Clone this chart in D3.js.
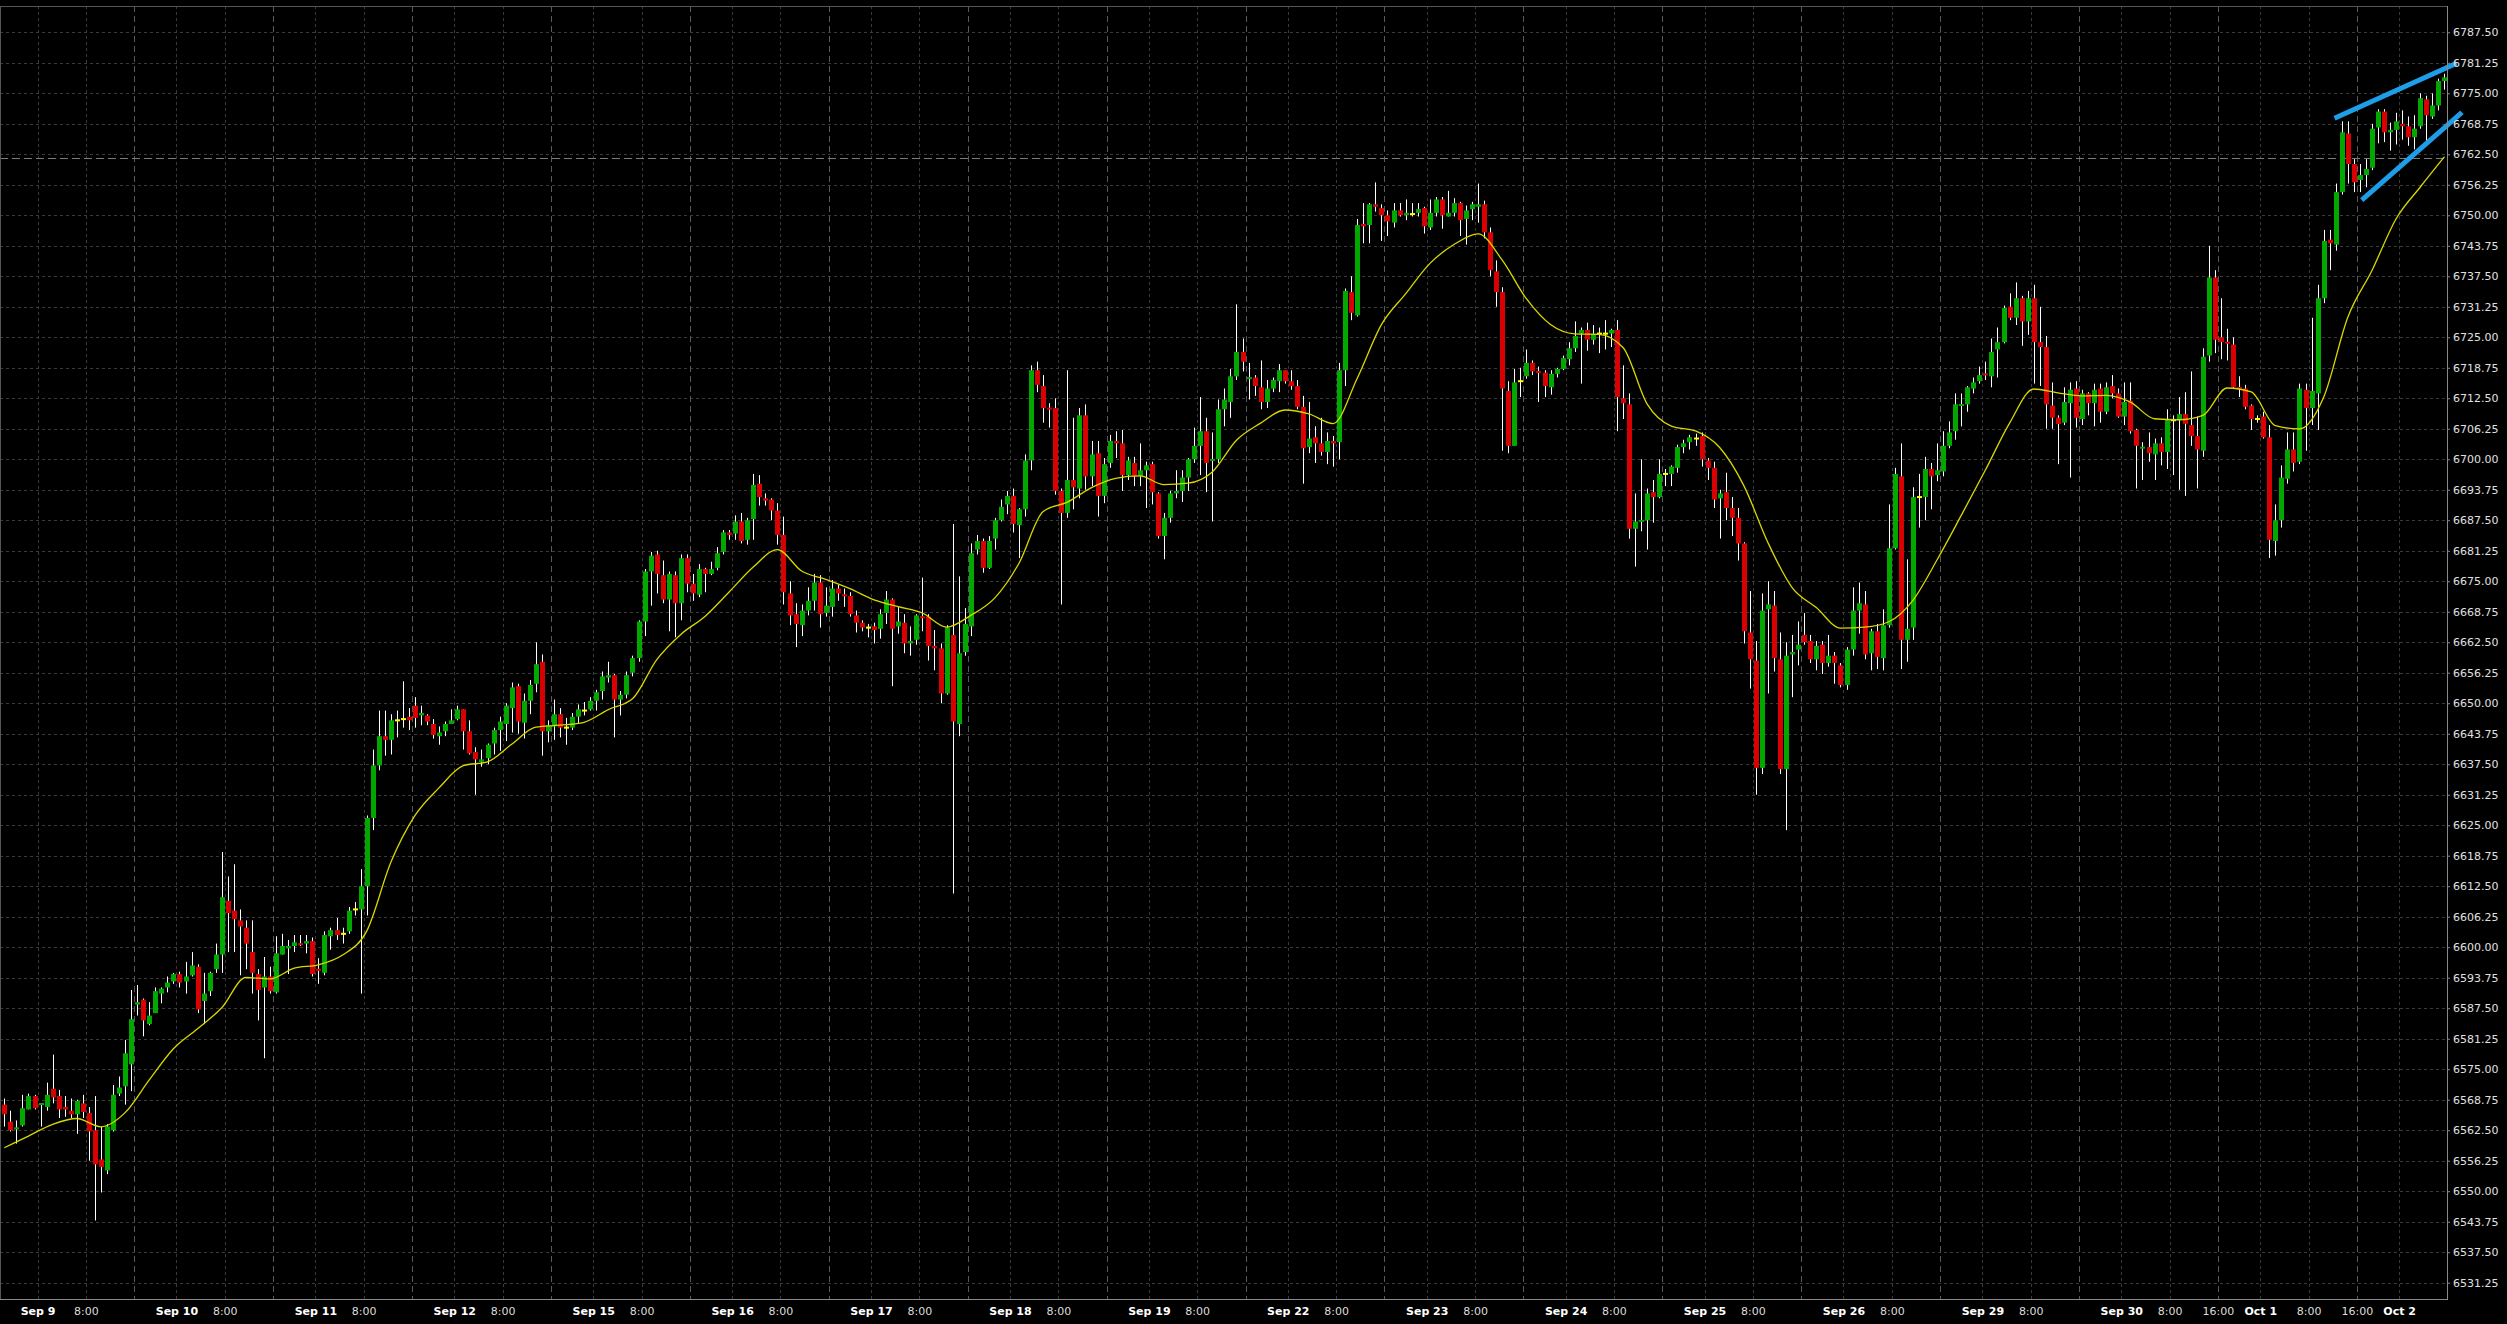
<!DOCTYPE html>
<html>
<head>
<meta charset="utf-8">
<script src="https://cdn.jsdelivr.net/npm/d3@7"></script>
<style>
  html, body { margin: 0; padding: 0; background: #000; overflow: hidden; }
  text { font-family: "DejaVu Sans", sans-serif; }
</style>
</head>
<body>
<svg id="chart"></svg>
<script>
// hourly bars, Sep 8 18:00 .. Oct 2 07:00 (index = bar number)
const openP = [
  6567.75,6564.25,6562.75,6563.5,6566.75,6569.5,6567.75,6567.25,6571.0,6569.5,
  6567.25,6566.5,6565.75,6568.0,6566.0,6562.5,6556.5,6554.25,6562.5,6570.0,
  6571.5,6576.0,6588.25,6589.25,6584.25,6586.5,6590.5,6591.75,6593.0,6594.5,
  6593.0,6594.25,6596.0,6589.0,6591.0,6595.5,6598.5,6609.5,6607.5,6605.5,
  6604.0,6599.0,6594.5,6591.75,6594.0,6590.75,6598.5,6599.75,6600.25,6600.75,
  6600.75,6601.25,6595.5,6594.75,6602.25,6603.5,6602.75,6603.25,6607.75,6607.75,
  6612.5,6626.5,6637.25,6643.25,6642.5,6646.5,6646.75,6647.25,6649.5,6647.5,
  6647.5,6645.75,6643.25,6644.25,6645.75,6646.75,6648.75,6644.25,6640.0,6638.0,
  6638.75,6641.75,6644.5,6645.75,6649.0,6653.5,6646.0,6650.5,6654.0,6658.5,
  6644.25,6645.25,6647.75,6645.0,6645.0,6647.25,6648.5,6648.75,6650.5,6652.5,
  6655.25,6655.75,6650.75,6651.75,6656.25,6659.25,6666.75,6677.0,6680.5,6676.25,
  6671.25,6676.25,6670.5,6679.75,6674.5,6672.25,6677.5,6676.5,6677.75,6681.0,
  6685.0,6684.75,6687.25,6683.5,6687.75,6695.0,6692.0,6691.75,6689.5,6684.5,
  6672.5,6668.25,6666.0,6669.0,6671.0,6674.75,6668.5,6669.75,6673.5,6672.25,
  6672.0,6668.0,6666.5,6665.5,6665.75,6665.25,6668.5,6671.25,6665.75,6666.5,
  6662.25,6663.0,6667.75,6667.75,6661.75,6661.25,6652.0,6664.0,6645.75,6660.5,
  6665.75,6681.5,6683.25,6677.75,6683.75,6687.5,6690.75,6692.5,6686.5,6689.75,
  6699.75,6718.25,6715.0,6710.5,6710.5,6693.5,6689.0,6695.75,6694.0,6709.0,
  6696.5,6701.25,6692.5,6699.25,6703.75,6703.25,6696.75,6699.25,6696.5,6697.75,
  6699.0,6693.0,6684.25,6688.0,6693.0,6693.5,6696.25,6700.0,6702.75,6705.75,
  6699.75,6700.0,6710.25,6711.75,6717.0,6722.0,6716.5,6716.75,6714.75,6711.75,
  6714.5,6716.0,6718.25,6716.0,6715.0,6710.75,6702.5,6704.5,6703.25,6701.5,
  6703.75,6703.5,6718.25,6734.25,6729.5,6748.25,6748.0,6752.25,6751.5,6750.0,
  6748.5,6751.0,6750.0,6750.25,6750.5,6751.5,6747.5,6750.5,6753.25,6749.75,
  6750.5,6752.5,6749.25,6751.25,6751.75,6752.25,6746.5,6738.5,6734.25,6714.0,
  6702.75,6716.0,6717.0,6719.75,6718.0,6717.75,6714.75,6717.5,6718.5,6720.5,
  6722.75,6725.75,6726.5,6724.5,6725.75,6725.75,6725.75,6726.5,6712.5,6711.25,
  6685.75,6687.25,6687.5,6693.25,6692.25,6697.0,6697.0,6698.25,6702.5,6703.5,
  6704.25,6704.75,6699.75,6698.25,6692.0,6693.25,6690.0,6688.0,6682.75,6664.5,
  6658.75,6636.75,6669.25,6670.0,6659.0,6636.5,6660.0,6661.0,6664.0,6662.75,
  6659.0,6662.0,6658.25,6659.75,6657.75,6653.75,6661.0,6669.0,6670.25,6660.25,
  6664.75,6659.25,6666.0,6681.75,6696.5,6663.0,6665.5,6692.25,6692.25,6698.0,
  6696.75,6697.5,6702.75,6705.75,6711.0,6711.25,6714.5,6716.0,6717.5,6717.0,
  6722.5,6724.0,6731.25,6729.0,6733.0,6728.25,6733.0,6724.0,6723.0,6711.0,
  6708.5,6707.5,6711.5,6714.5,6708.25,6713.5,6711.5,6714.5,6709.75,6715.0,
  6713.5,6708.75,6712.0,6706.0,6702.25,6702.5,6701.0,6703.25,6701.5,6708.0,
  6708.0,6709.25,6707.0,6704.75,6701.75,6721.25,6737.25,6725.0,6724.0,6723.5,
  6714.75,6714.5,6711.0,6708.25,6708.75,6704.5,6683.25,6687.5,6696.0,6702.0,
  6699.5,6714.25,6710.5,6713.5,6733.0,6745.0,6744.0,6754.75,6766.75,6760.5,
  6757.25,6758.25,6759.75,6768.0,6771.25,6767.0,6767.5,6768.75,6768.25,6766.0,
  6768.25,6773.75,6770.25,6772.5,6777.5
];
const highP = [
  6569.0,6566.5,6564.5,6569.75,6570.0,6569.75,6568.0,6572.25,6578.0,6570.75,
  6569.5,6569.0,6568.75,6569.75,6567.25,6569.5,6563.25,6563.75,6571.75,6573.5,
  6581.0,6591.25,6592.25,6589.5,6588.75,6591.75,6591.75,6594.0,6594.75,6595.0,
  6597.0,6599.0,6596.5,6594.75,6595.0,6600.75,6619.5,6614.5,6617.0,6607.75,
  6605.5,6605.5,6595.5,6598.0,6596.0,6602.25,6602.75,6601.5,6602.5,6602.5,
  6602.5,6602.0,6597.75,6603.25,6604.0,6606.0,6604.0,6608.25,6609.25,6616.0,
  6627.0,6640.5,6648.5,6648.5,6647.75,6648.5,6654.5,6649.0,6651.25,6649.5,
  6647.75,6646.75,6645.25,6646.25,6648.75,6649.5,6648.75,6646.5,6641.0,6640.5,
  6641.75,6645.0,6647.25,6650.0,6654.25,6654.0,6652.0,6654.75,6662.5,6660.0,
  6646.5,6650.75,6649.0,6647.0,6648.0,6649.75,6650.25,6651.25,6652.75,6656.5,
  6658.5,6656.0,6652.5,6656.5,6659.75,6667.0,6677.5,6681.0,6681.25,6679.25,
  6677.0,6677.0,6680.5,6680.5,6676.5,6678.5,6677.75,6679.0,6682.0,6685.5,
  6685.5,6688.5,6689.0,6688.0,6697.0,6696.75,6693.0,6692.0,6691.0,6688.25,
  6675.0,6670.5,6670.25,6673.75,6676.5,6676.25,6673.75,6675.25,6674.25,6673.5,
  6672.75,6669.0,6667.0,6666.25,6666.5,6669.25,6673.0,6671.5,6669.75,6668.25,
  6665.75,6668.25,6675.75,6668.25,6665.0,6662.25,6666.0,6686.75,6676.0,6669.5,
  6682.75,6684.5,6683.75,6684.25,6688.0,6691.75,6693.5,6694.0,6690.0,6701.0,
  6719.25,6720.0,6717.25,6711.5,6712.5,6694.0,6718.25,6708.5,6710.5,6711.25,
  6703.75,6703.75,6700.25,6705.0,6705.75,6706.0,6700.5,6700.5,6703.25,6699.5,
  6699.5,6693.25,6689.0,6693.5,6697.75,6697.75,6700.25,6706.5,6712.75,6708.5,
  6705.5,6712.25,6714.5,6718.5,6731.75,6724.75,6719.75,6717.25,6720.25,6716.25,
  6716.75,6719.5,6718.25,6718.25,6716.25,6713.0,6711.75,6706.75,6708.5,6705.5,
  6704.75,6719.75,6735.0,6737.5,6749.25,6752.5,6752.5,6756.75,6752.25,6751.0,
  6752.5,6752.5,6753.25,6752.5,6752.5,6751.75,6753.25,6753.75,6753.75,6755.0,
  6753.5,6752.75,6752.0,6752.75,6756.5,6753.0,6747.5,6740.75,6735.25,6716.0,
  6718.5,6718.75,6722.5,6720.25,6719.0,6718.25,6718.25,6718.75,6721.25,6724.0,
  6728.25,6727.0,6728.0,6727.5,6727.0,6728.5,6726.75,6728.5,6719.25,6713.5,
  6693.0,6700.0,6694.0,6695.75,6700.0,6698.0,6698.75,6703.0,6704.0,6705.0,
  6705.25,6705.5,6700.25,6699.5,6693.75,6697.25,6692.25,6690.0,6683.0,6673.0,
  6662.75,6672.5,6675.0,6673.0,6664.5,6662.5,6664.0,6666.75,6668.5,6664.0,
  6662.75,6662.75,6664.0,6660.5,6658.25,6661.5,6673.75,6674.75,6673.0,6665.25,
  6666.25,6669.25,6690.75,6698.25,6703.25,6679.5,6694.25,6697.0,6700.5,6699.25,
  6703.25,6705.75,6707.75,6713.5,6713.5,6715.0,6716.75,6719.0,6720.0,6724.75,
  6727.0,6731.5,6734.0,6736.25,6733.5,6734.5,6735.75,6731.25,6725.25,6715.75,
  6709.0,6714.75,6715.75,6716.0,6714.25,6713.75,6715.5,6715.5,6715.75,6717.25,
  6714.5,6715.75,6715.75,6706.25,6703.5,6705.5,6704.25,6704.5,6710.25,6709.0,
  6712.75,6713.75,6718.0,6708.75,6722.75,6743.75,6738.75,6733.0,6726.75,6725.0,
  6717.0,6715.25,6711.25,6709.0,6709.75,6707.0,6690.75,6698.75,6705.5,6705.5,
  6715.5,6715.5,6729.0,6735.75,6747.0,6747.0,6756.5,6769.25,6769.25,6761.5,
  6760.5,6761.5,6768.75,6771.75,6771.75,6769.0,6771.0,6771.5,6770.25,6770.5,
  6775.0,6774.5,6775.0,6778.0,6779.0
];
const lowP = [
  6563.25,6562.25,6559.75,6563.25,6566.75,6566.75,6563.25,6566.5,6568.0,6565.0,
  6565.25,6565.0,6561.75,6565.0,6556.25,6544.0,6549.75,6553.5,6562.25,6569.5,
  6567.75,6570.5,6586.0,6581.75,6584.0,6586.5,6588.5,6590.75,6592.5,6591.75,
  6590.5,6594.0,6586.5,6584.25,6590.0,6594.75,6594.75,6599.0,6599.0,6594.25,
  6595.5,6590.5,6585.0,6577.25,6590.5,6590.5,6598.5,6594.5,6599.0,6600.25,
  6598.75,6594.0,6592.5,6594.25,6599.5,6601.5,6600.75,6602.75,6606.5,6590.5,
  6606.5,6624.0,6636.25,6639.25,6639.5,6643.0,6645.0,6644.5,6645.0,6645.5,
  6645.5,6642.75,6641.5,6643.25,6645.75,6646.5,6640.5,6639.5,6631.25,6637.0,
  6637.5,6639.5,6640.25,6642.25,6644.0,6643.75,6642.75,6647.75,6652.25,6639.25,
  6642.0,6642.5,6643.0,6641.5,6644.5,6645.75,6647.5,6648.5,6648.5,6650.75,
  6654.25,6643.0,6647.5,6651.0,6655.5,6658.5,6663.75,6670.0,6672.5,6670.5,
  6664.75,6663.5,6667.0,6672.75,6671.0,6671.75,6672.75,6676.25,6677.25,6680.5,
  6683.5,6683.5,6682.75,6682.5,6683.5,6690.5,6690.5,6687.5,6682.5,6670.25,
  6666.0,6661.5,6663.75,6668.0,6669.0,6665.5,6667.75,6667.75,6671.0,6669.75,
  6667.75,6664.5,6664.75,6663.5,6662.25,6663.25,6666.25,6653.5,6664.25,6660.25,
  6659.75,6662.0,6664.75,6658.75,6656.75,6650.0,6651.75,6611.0,6643.25,6659.75,
  6663.75,6680.5,6676.75,6677.5,6681.5,6687.25,6688.75,6685.0,6679.75,6688.25,
  6697.75,6713.75,6707.5,6706.5,6692.75,6670.25,6688.0,6689.75,6692.0,6693.75,
  6694.5,6688.25,6691.0,6698.25,6700.25,6693.5,6695.75,6694.5,6694.5,6690.0,
  6690.75,6683.75,6679.5,6687.0,6692.0,6691.25,6693.5,6699.25,6696.75,6693.25,
  6687.25,6699.25,6706.75,6708.5,6716.25,6718.0,6712.25,6713.0,6710.25,6710.5,
  6713.75,6713.75,6715.5,6714.25,6710.25,6695.0,6701.25,6699.25,6700.75,6699.0,
  6698.5,6700.0,6715.0,6728.5,6729.25,6744.25,6744.25,6750.75,6744.75,6745.75,
  6747.5,6749.75,6749.0,6749.75,6749.75,6746.25,6747.0,6749.75,6747.25,6749.75,
  6749.75,6745.75,6744.0,6749.0,6748.5,6745.25,6737.5,6731.25,6701.75,6701.25,
  6702.75,6712.75,6716.5,6717.25,6711.75,6712.75,6713.25,6716.75,6718.25,6719.25,
  6722.0,6715.5,6722.25,6723.5,6721.75,6722.5,6723.0,6705.75,6708.25,6683.75,
  6678.0,6685.25,6681.5,6687.0,6692.0,6694.5,6694.5,6697.25,6701.25,6702.0,
  6702.75,6698.5,6695.75,6690.0,6683.75,6687.5,6684.25,6679.25,6662.25,6653.0,
  6631.25,6635.5,6652.0,6656.5,6635.5,6624.0,6651.25,6657.75,6662.0,6658.25,
  6656.75,6656.0,6657.5,6654.0,6653.25,6652.75,6659.75,6664.25,6659.0,6656.75,
  6657.0,6656.75,6665.5,6681.5,6657.0,6658.5,6663.0,6686.0,6687.5,6689.75,
  6695.5,6696.5,6702.25,6704.0,6706.75,6709.75,6713.5,6715.5,6716.25,6714.75,
  6716.75,6723.75,6728.5,6727.5,6723.25,6725.5,6715.5,6715.0,6706.25,6706.25,
  6699.0,6707.0,6696.25,6706.5,6707.0,6709.0,6706.75,6707.5,6709.25,6712.5,
  6708.5,6707.0,6705.25,6694.0,6695.75,6699.5,6695.75,6698.75,6698.0,6696.75,
  6693.75,6692.5,6702.75,6694.0,6700.5,6720.0,6721.75,6720.5,6720.25,6714.5,
  6712.75,6710.25,6706.0,6707.5,6704.25,6679.75,6680.25,6686.0,6695.0,6697.5,
  6699.0,6701.75,6707.0,6706.0,6732.0,6738.75,6742.75,6754.25,6756.5,6754.75,
  6754.75,6755.75,6759.25,6764.75,6765.0,6763.25,6764.5,6765.5,6764.25,6763.5,
  6767.75,6765.25,6769.75,6771.5,6775.75
];
const closeP = [
  6565.75,6562.5,6563.0,6567.0,6569.5,6567.0,6568.0,6569.75,6569.25,6566.75,
  6566.75,6565.75,6568.5,6566.25,6562.25,6555.5,6555.0,6563.25,6569.75,6571.25,
  6578.25,6585.25,6588.75,6585.0,6586.0,6591.0,6591.5,6592.75,6594.5,6592.75,
  6594.0,6596.25,6587.25,6590.5,6594.75,6598.5,6610.25,6607.0,6605.75,6604.25,
  6600.75,6594.75,6591.25,6594.0,6591.0,6598.75,6600.25,6600.25,6601.0,6600.5,
  6601.25,6594.5,6595.25,6602.5,6603.5,6602.5,6602.75,6607.5,6607.75,6612.5,
  6626.5,6637.25,6643.25,6642.5,6646.5,6646.5,6646.75,6646.5,6647.0,6648.0,
  6646.25,6643.5,6644.0,6645.75,6646.5,6648.75,6644.25,6639.75,6638.5,6638.5,
  6641.5,6644.5,6646.25,6649.5,6653.25,6646.25,6650.5,6653.75,6658.0,6644.25,
  6645.5,6647.75,6645.0,6645.0,6647.25,6648.75,6648.5,6650.5,6652.25,6655.5,
  6655.75,6650.75,6651.75,6655.75,6659.25,6666.75,6677.0,6680.25,6676.5,6671.25,
  6676.5,6670.5,6679.75,6674.5,6672.5,6677.5,6676.5,6677.5,6680.75,6685.0,
  6684.5,6687.25,6683.25,6687.5,6694.75,6692.25,6691.5,6689.5,6684.5,6672.75,
  6668.0,6666.25,6669.0,6671.0,6674.75,6668.25,6670.0,6673.5,6672.5,6672.0,
  6668.25,6666.5,6665.5,6665.5,6665.0,6668.25,6671.25,6665.25,6666.75,6662.25,
  6662.75,6668.0,6667.5,6661.75,6661.25,6652.0,6665.5,6646.25,6660.25,6666.25,
  6680.75,6683.25,6677.75,6683.25,6687.5,6690.25,6692.5,6686.75,6689.75,6699.75,
  6718.25,6715.25,6710.5,6710.25,6693.5,6689.0,6695.75,6694.25,6709.0,6696.5,
  6701.0,6692.5,6699.0,6703.75,6703.25,6696.75,6699.75,6696.5,6697.75,6698.75,
  6693.25,6684.25,6688.0,6693.0,6693.5,6696.25,6700.0,6702.75,6705.75,6699.25,
  6700.0,6710.25,6712.25,6717.0,6722.0,6720.0,6716.75,6715.0,6711.75,6714.5,
  6716.25,6718.25,6716.0,6715.0,6710.75,6702.25,6704.25,6703.25,6701.5,6703.75,
  6703.25,6718.25,6734.5,6730.0,6748.0,6747.75,6752.25,6751.75,6750.0,6748.75,
  6751.0,6750.0,6750.5,6750.25,6751.25,6747.75,6750.5,6753.25,6750.0,6750.5,
  6752.5,6749.0,6751.0,6752.25,6752.25,6746.5,6738.75,6734.25,6714.5,6702.75,
  6715.75,6716.0,6719.75,6718.0,6717.75,6715.0,6717.5,6718.5,6720.75,6722.75,
  6725.25,6726.5,6724.5,6725.75,6725.75,6725.75,6726.5,6712.75,6711.5,6685.75,
  6687.25,6687.5,6693.0,6692.25,6697.0,6697.0,6698.5,6702.5,6703.25,6704.5,
  6704.25,6700.0,6698.25,6691.75,6693.0,6690.0,6688.0,6682.75,6664.75,6659.0,
  6636.75,6669.0,6670.25,6659.25,6636.5,6659.75,6660.5,6662.0,6662.5,6659.0,
  6661.75,6658.25,6659.75,6658.25,6653.75,6661.0,6669.0,6670.5,6660.0,6664.75,
  6659.5,6666.0,6681.75,6697.0,6663.0,6665.25,6692.25,6692.25,6698.0,6696.5,
  6697.75,6702.75,6705.5,6711.25,6711.25,6714.75,6715.75,6717.25,6717.25,6722.0,
  6724.0,6731.0,6729.0,6733.0,6728.25,6733.0,6724.0,6723.0,6711.25,6708.5,
  6707.25,6711.75,6714.25,6708.5,6713.5,6711.5,6714.25,6709.75,6714.75,6713.5,
  6708.75,6711.75,6705.75,6702.75,6702.5,6701.25,6703.25,6701.5,6708.0,6708.0,
  6709.25,6707.25,6704.75,6702.0,6721.0,6737.25,6724.5,6724.0,6723.75,6714.75,
  6714.5,6710.75,6708.25,6708.25,6704.5,6683.5,6687.5,6696.25,6702.0,6699.25,
  6714.5,6710.5,6714.0,6733.0,6744.75,6744.25,6754.75,6767.0,6760.5,6756.75,
  6758.25,6759.5,6767.75,6771.25,6767.0,6767.5,6769.25,6768.25,6766.0,6767.75,
  6774.0,6770.5,6772.5,6777.5,6778.25
];

// moving average, one value every 4 bars (bar 0, 4, 8 ... 404)
const maStep = 4;
const maValues = [
  6558.9,6561.3,6563.7,6564.9,6563.2,6566.1,6572.8,6579.2,6583.3,6587.6,
  6593.8,6593.5,6595.7,6596.4,6598.4,6603.3,6617.4,6627.0,6632.7,6637.2,
  6638.0,6641.6,6645.1,6645.5,6646.1,6648.7,6650.9,6658.9,6664.1,6667.8,
  6672.8,6677.9,6681.5,6677.1,6675.4,6673.5,6671.2,6669.8,6668.5,6665.6,
  6668.0,6671.6,6678.7,6689.3,6691.2,6694.2,6696.1,6696.6,6694.8,6695.1,
  6697.4,6703.9,6707.4,6710.1,6709.3,6707.3,6716.6,6727.6,6733.9,6740.1,
  6744.0,6746.2,6740.8,6732.9,6727.6,6725.7,6725.6,6722.9,6711.3,6706.8,
  6705.8,6702.4,6694.6,6682.9,6673.7,6669.6,6665.4,6665.6,6666.7,6671.1,
  6679.4,6688.5,6697.8,6707.4,6714.4,6713.6,6713.0,6713.1,6711.7,6708.3,
  6708.1,6709.0,6714.6,6713.8,6706.9,6706.2,6712.7,6729.1,6738.7,6749.3,
  6755.8,6762.0
];

// trading days; each day has 23 hourly bars, first day's 0:00 bar is bar 6
const dayLabels = ["Sep 9","Sep 10","Sep 11","Sep 12","Sep 15","Sep 16","Sep 17","Sep 18","Sep 19",
  "Sep 22","Sep 23","Sep 24","Sep 25","Sep 26","Sep 29","Sep 30","Oct 1","Oct 2"];
const sixteenLabelDays = ["Sep 30","Oct 1"];
const levelLine = 6761.75;
const trendLines = [
  [[385.8, 6769.9], [406.0, 6781.15]],
  [[390.3, 6753.1], [406.9, 6771.1]]
];
const priceTicks = d3.range(6531.25, 6787.51, 6.25);

const W = 2507, H = 1324;
const plotRight = 2447, plotTop = 6, plotBottom = 1299;

const svg = d3.select("#chart").attr("width", W).attr("height", H)
  .style("display", "block").style("background", "#000");

const x = d3.scaleLinear().domain([0, 404]).range([4.3, 4.3 + 6.04 * 404]);
const y = d3.scaleLinear().domain([6531.25, 6787.5]).range([1282.7, 32.3]);

// grid
const grid = svg.append("g");
grid.selectAll(".hg").data(priceTicks).enter().append("line")
  .attr("x1", 0).attr("x2", plotRight)
  .attr("y1", d => Math.round(y(d)) + 0.5).attr("y2", d => Math.round(y(d)) + 0.5)
  .attr("stroke", "#3a3a3a").attr("stroke-dasharray", "3,3");

let vLines = [];
let xTicks = [];
dayLabels.forEach((lab, d) => {
  const b0 = 6 + 23 * d;
  vLines.push({ bar: b0, major: false });
  xTicks.push({ bar: b0, text: lab, bold: true });
  if (b0 + 8 <= 404) {
    vLines.push({ bar: b0 + 8, major: false });
    xTicks.push({ bar: b0 + 8, text: "8:00", bold: false });
  }
  if (b0 + 16 <= 404) {
    vLines.push({ bar: b0 + 16, major: true });
    if (sixteenLabelDays.includes(lab)) xTicks.push({ bar: b0 + 16, text: "16:00", bold: false });
  }
});

grid.selectAll(".vg").data(vLines).enter().append("line")
  .attr("x1", d => Math.round(x(d.bar - 0.5)) + 0.5).attr("x2", d => Math.round(x(d.bar - 0.5)) + 0.5)
  .attr("y1", plotTop).attr("y2", plotBottom)
  .attr("stroke", d => d.major ? "#595959" : "#3a3a3a")
  .attr("stroke-dasharray", d => d.major ? "6,4" : "3,3");

// level line
svg.append("line")
  .attr("x1", 0).attr("x2", plotRight)
  .attr("y1", Math.round(y(levelLine)) + 0.5).attr("y2", Math.round(y(levelLine)) + 0.5)
  .attr("stroke", "#7c7c7c").attr("stroke-dasharray", "8,4");

// frame
svg.append("line").attr("x1", 0).attr("x2", plotRight).attr("y1", plotTop + 0.5).attr("y2", plotTop + 0.5)
  .attr("stroke", "#555");
svg.append("line").attr("x1", 0.5).attr("x2", 0.5).attr("y1", plotTop).attr("y2", plotBottom)
  .attr("stroke", "#555");

// candles
const bars = openP.map((o, i) => ({ i, o, h: highP[i], l: lowP[i], c: closeP[i] }));
const candles = svg.append("g").selectAll("g").data(bars).enter().append("g");
candles.append("line")
  .attr("x1", d => Math.round(x(d.i)) + 0.5).attr("x2", d => Math.round(x(d.i)) + 0.5)
  .attr("y1", d => y(d.h)).attr("y2", d => y(d.l))
  .attr("stroke", "#fff").attr("stroke-width", 1);
candles.append("rect")
  .attr("x", d => Math.round(x(d.i)) - 2)
  .attr("width", 5)
  .attr("y", d => {
    const top = y(Math.max(d.o, d.c)), bot = y(Math.min(d.o, d.c));
    return bot - top < 2 ? (top + bot) / 2 - 1 : top;
  })
  .attr("height", d => Math.max(2, y(Math.min(d.o, d.c)) - y(Math.max(d.o, d.c))))
  .attr("fill", d => d.c > d.o ? "#00a800" : (d.c < d.o ? "#d80000" : "#ffff00"));

// moving average
const maLine = d3.line()
  .x((d, k) => x(k * maStep))
  .y(d => y(d))
  .curve(d3.curveMonotoneX);
svg.append("path").datum(maValues)
  .attr("d", maLine)
  .attr("fill", "none").attr("stroke", "#d8d800").attr("stroke-width", 1.3);

// trend lines
svg.append("g").selectAll("line").data(trendLines).enter().append("line")
  .attr("x1", d => x(d[0][0])).attr("y1", d => y(d[0][1]))
  .attr("x2", d => x(d[1][0])).attr("y2", d => y(d[1][1]))
  .attr("stroke", "#1e9de8").attr("stroke-width", 5);

// price axis
const yAxis = d3.axisRight(y).tickValues(priceTicks).tickFormat(d3.format(".2f"))
  .tickSize(3).tickSizeOuter(0).tickPadding(3);
const gy = svg.append("g").attr("transform", `translate(${plotRight},0)`).call(yAxis);
gy.select(".domain").remove();
gy.selectAll(".tick line").attr("stroke", "#888");
gy.selectAll(".tick text").attr("fill", "#e0e0e0")
  .style("font-family", "DejaVu Sans").style("font-size", "11px");
svg.append("line").attr("x1", plotRight + 0.5).attr("x2", plotRight + 0.5)
  .attr("y1", plotTop).attr("y2", plotBottom + 0.5).attr("stroke", "#8a8a8a");

// time axis
const xAxis = d3.axisBottom(x)
  .tickValues(xTicks.map(t => t.bar - 0.5))
  .tickFormat((v, k) => xTicks[k].text)
  .tickSize(0).tickSizeOuter(0).tickPadding(8);
const gx = svg.append("g").attr("transform", `translate(0,${plotBottom})`).call(xAxis);
gx.select(".domain").remove();
gx.selectAll(".tick text")
  .attr("fill", (v, k) => xTicks[k].bold ? "#ffffff" : "#dddddd")
  .style("font-weight", (v, k) => xTicks[k].bold ? "bold" : "normal")
  .style("font-family", "DejaVu Sans").style("font-size", "11px");
svg.append("line").attr("x1", 0).attr("x2", plotRight + 1)
  .attr("y1", plotBottom + 0.5).attr("y2", plotBottom + 0.5).attr("stroke", "#8a8a8a");
</script>
</body>
</html>
